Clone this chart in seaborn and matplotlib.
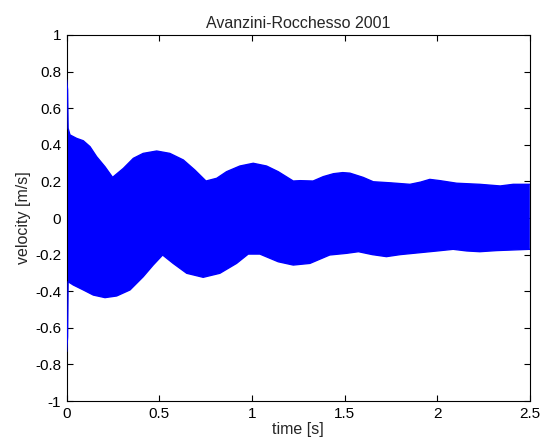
import matplotlib
matplotlib.use("Agg")
import matplotlib.pyplot as plt
import seaborn as sns
import pandas as pd

# Envelope of the simulated velocity signal (upper and lower bounds of the oscillation)
t_upper = [0.0, 0.005, 0.008, 0.018, 0.054, 0.09, 0.126, 0.162, 0.207, 0.248, 0.306,
           0.36, 0.413, 0.486, 0.557, 0.63, 0.692, 0.752, 0.81, 0.863, 0.935, 1.007,
           1.079, 1.142, 1.223, 1.26, 1.33, 1.385, 1.44, 1.49, 1.529, 1.6, 1.655,
           1.75, 1.853, 1.91, 1.96, 2.015, 2.105, 2.23, 2.34, 2.41, 2.5]
v_upper = [0.755, 0.70, 0.49, 0.454, 0.435, 0.422, 0.39, 0.335, 0.28, 0.222, 0.271,
           0.326, 0.353, 0.366, 0.353, 0.317, 0.262, 0.202, 0.217, 0.253, 0.284, 0.299,
           0.284, 0.253, 0.202, 0.204, 0.202, 0.226, 0.242, 0.248, 0.245, 0.222, 0.198,
           0.192, 0.184, 0.196, 0.211, 0.204, 0.19, 0.184, 0.175, 0.184, 0.184]

t_lower = [0.0, 0.005, 0.008, 0.036, 0.09, 0.144, 0.207, 0.27, 0.342, 0.413, 0.467,
           0.518, 0.575, 0.648, 0.737, 0.827, 0.917, 0.98, 1.043, 1.142, 1.223, 1.313,
           1.42, 1.51, 1.575, 1.65, 1.726, 1.8, 1.87, 2.0, 2.086, 2.16, 2.23, 2.32, 2.5]
v_lower = [-0.73, -0.65, -0.348, -0.366, -0.393, -0.421, -0.435, -0.426, -0.393, -0.321,
           -0.257, -0.202, -0.248, -0.302, -0.324, -0.302, -0.248, -0.197, -0.197,
           -0.239, -0.257, -0.248, -0.202, -0.193, -0.184, -0.2, -0.211, -0.2, -0.193,
           -0.18, -0.171, -0.18, -0.184, -0.178, -0.171]

x_ticks = [0, 0.5, 1, 1.5, 2, 2.5]
x_tick_labels = ["0", "0.5", "1", "1.5", "2", "2.5"]
y_ticks = [-1, -0.8, -0.6, -0.4, -0.2, 0, 0.2, 0.4, 0.6, 0.8, 1]
y_tick_labels = ["-1", "-0.8", "-0.6", "-0.4", "-0.2", "0", "0.2", "0.4", "0.6", "0.8", "1"]

title = "Avanzini-Rocchesso 2001"
x_label = "time [s]"
y_label = "velocity [m/s]"

sns.set_style("ticks")
plt.rcParams["font.family"] = ["Liberation Sans", "DejaVu Sans"]
plt.rcParams["axes.unicode_minus"] = False

fig = plt.figure(figsize=(5.44, 4.44), dpi=100)
ax = fig.add_axes([0.1225, 0.0968, 0.8515, 0.8244])

upper = pd.DataFrame({"t": t_upper, "v": v_upper})
lower = pd.DataFrame({"t": t_lower, "v": v_lower})

blue = "#0000FF"
# Solid band: the oscillation is too dense to resolve, so the region between
# the envelopes is filled as one polygon
ax.fill(t_upper + t_lower[::-1], v_upper + v_lower[::-1],
        color=blue, linewidth=0, zorder=2)
sns.lineplot(data=upper, x="t", y="v", ax=ax, color=blue, linewidth=1.0,
             estimator=None, sort=False, zorder=3)
sns.lineplot(data=lower, x="t", y="v", ax=ax, color=blue, linewidth=1.0,
             estimator=None, sort=False, zorder=3)

ax.set_xlim(0, 2.5)
ax.set_ylim(-1, 1)
ax.set_xticks(x_ticks)
ax.set_xticklabels(x_tick_labels)
ax.set_yticks(y_ticks)
ax.set_yticklabels(y_tick_labels)

ax.tick_params(direction="in", length=4, width=0.8, colors="black",
               labelsize=11, top=True, right=True, pad=4)
for side in ["top", "right", "bottom", "left"]:
    ax.spines[side].set_visible(True)
    ax.spines[side].set_color("black")
    ax.spines[side].set_linewidth(0.8)

ax.set_title(title, fontsize=11.5, pad=5)
ax.set_xlabel(x_label, fontsize=11.5, labelpad=1)
ax.set_ylabel(y_label, fontsize=11.5, labelpad=3)

fig.savefig("out.png", dpi=100)
